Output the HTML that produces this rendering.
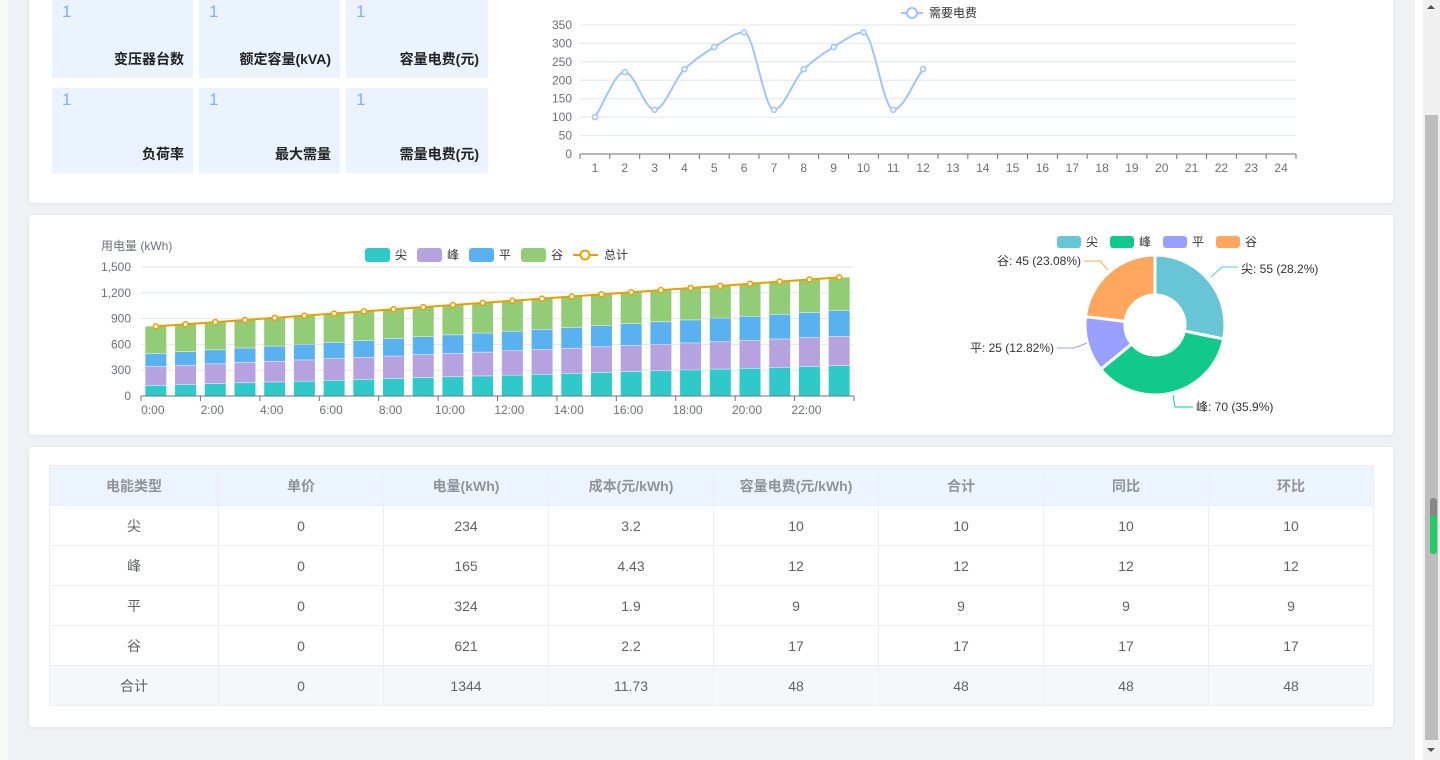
<!DOCTYPE html>
<html><head><meta charset="utf-8">
<style>
*{margin:0;padding:0;box-sizing:border-box}
body{width:1440px;height:760px;overflow:hidden;background:#fff;font-family:"Liberation Sans","Noto Sans CJK SC",sans-serif;position:relative}
#bg{position:absolute;left:0;top:0;width:1415px;height:760px;background:#f0f1f5}
#bg2{position:absolute;left:0;top:0;width:8px;height:760px;background:#f7f8fa}
.panel{position:absolute;left:29px;width:1364px;background:#fff;border-radius:4px;box-shadow:0 1px 4px rgba(0,0,0,.06)}
.box{position:absolute;background:#eaf3ff;width:141px}
.box .n{position:absolute;left:10px;top:2px;font-size:17px;color:#7ab5f5}
.box .l{position:absolute;right:9px;bottom:9px;font-size:14px;font-weight:bold;color:#222}
table{position:absolute;left:49px;top:465px;border-collapse:collapse;font-size:14px;color:#606266}
td,th{border:1px solid #ebeef5;height:40px;padding:0;text-align:center;width:165px}
th{background:#ecf5ff;color:#909399;font-weight:bold}
tr.sum td{background:#f5f7fa}
#sb{position:absolute;left:1423px;top:0;width:17px;height:760px;background:#f0f0f0}
#thumb{position:absolute;left:1425px;top:115px;width:13px;height:625px;background:#bdbdbd}
</style></head><body>
<div id="bg"></div><div id="bg2"></div>
<div class="panel" style="top:-10px;height:213px"></div>
<div class="panel" style="top:215px;height:220px"></div>
<div class="panel" style="top:447px;height:280px"></div>

<div class="box" style="left:52px;top:0;height:78px"><span class="n">1</span><span class="l">变压器台数</span></div>
<div class="box" style="left:199px;top:0;height:78px"><span class="n">1</span><span class="l">额定容量(kVA)</span></div>
<div class="box" style="left:346px;top:0;height:78px;width:142px"><span class="n">1</span><span class="l">容量电费(元)</span></div>
<div class="box" style="left:52px;top:88px;height:85px"><span class="n">1</span><span class="l">负荷率</span></div>
<div class="box" style="left:199px;top:88px;height:85px"><span class="n">1</span><span class="l">最大需量</span></div>
<div class="box" style="left:346px;top:88px;height:85px;width:142px"><span class="n">1</span><span class="l">需量电费(元)</span></div>

<svg id="svg" width="1440" height="760" style="position:absolute;left:0;top:0" font-family="Liberation Sans, Noto Sans CJK SC, sans-serif"></svg>

<table>
<tr><th style="width:169px;height:40px">电能类型</th><th>单价</th><th>电量(kWh)</th><th>成本(元/kWh)</th><th>容量电费(元/kWh)</th><th>合计</th><th>同比</th><th>环比</th></tr>
<tr><td>尖</td><td>0</td><td>234</td><td>3.2</td><td>10</td><td>10</td><td>10</td><td>10</td></tr>
<tr><td>峰</td><td>0</td><td>165</td><td>4.43</td><td>12</td><td>12</td><td>12</td><td>12</td></tr>
<tr><td>平</td><td>0</td><td>324</td><td>1.9</td><td>9</td><td>9</td><td>9</td><td>9</td></tr>
<tr><td>谷</td><td>0</td><td>621</td><td>2.2</td><td>17</td><td>17</td><td>17</td><td>17</td></tr>
<tr class="sum"><td>合计</td><td>0</td><td>1344</td><td>11.73</td><td>48</td><td>48</td><td>48</td><td>48</td></tr>
</table>
<div id="sb"></div><div id="thumb"></div>
<div style="position:absolute;left:1430px;top:498px;width:7px;height:56px;border-radius:3px;background:#888"></div>
<div style="position:absolute;left:1430px;top:516px;width:7px;height:38px;border-radius:0 0 3px 3px;background:#22cc66"></div>
<div style="position:absolute;left:1427px;top:5px;border:4px solid transparent;border-bottom:4px solid #555;border-top:0"></div>
<div style="position:absolute;left:1427px;top:748px;border:4px solid transparent;border-top:4px solid #555;border-bottom:0"></div>

<script>
var s='';
function T(x,y,t,a,c,fs){s+='<text x="'+x+'" y="'+y+'" text-anchor="'+(a||'start')+'" fill="'+(c||'#6e7079')+'" font-size="'+(fs||12)+'">'+t+'</text>';}
var x0=580,x1=1296,y0=154,yt=25,cw=(x1-x0)/24;
for(var v=0;v<=350;v+=50){var y=y0-(v/350)*(y0-yt);if(v>0)s+='<line x1="'+x0+'" x2="'+x1+'" y1="'+y+'" y2="'+y+'" stroke="#e0e6f1"/>';T(572,y+4,v,'end');}
s+='<line x1="'+x0+'" x2="'+x1+'" y1="'+y0+'" y2="'+y0+'" stroke="#6e7079"/>';
for(var i=0;i<=24;i++){var x=x0+i*cw;s+='<line x1="'+x+'" x2="'+x+'" y1="'+y0+'" y2="'+(y0+5)+'" stroke="#6e7079"/>';if(i<24)T(x+cw/2,y0+18,i+1,'middle');}
var d=[100,222,120,230,290,330,120,230,290,330,120,230];
var P=d.map(function(v,i){return [x0+cw/2+i*cw,y0-v/350*(y0-yt)];});
var n=P.length,m=[],dl=[];
for(var i=0;i<n-1;i++)dl.push((P[i+1][1]-P[i][1])/cw);
for(var i=0;i<n;i++){if(i==0)m.push(dl[0]);else if(i==n-1)m.push(dl[n-2]);else if(dl[i-1]*dl[i]<=0)m.push(0);else m.push(2/(1/dl[i-1]+1/dl[i]));}
var p='M'+P[0];
for(var i=0;i<n-1;i++){var b=P[i],c=P[i+1],h=cw/3;
p+=' C'+(b[0]+h)+','+(b[1]+m[i]*h)+' '+(c[0]-h)+','+(c[1]-m[i+1]*h)+' '+c;}
s+='<path d="'+p+'" fill="none" stroke="#a0c4ff" stroke-width="2"/>';
P.forEach(function(q){s+='<circle cx="'+q[0]+'" cy="'+q[1]+'" r="2.5" fill="#fff" stroke="#a0c4ff" stroke-width="1.5"/>';});
s+='<line x1="901" x2="923" y1="13" y2="13" stroke="#a0c4ff" stroke-width="2"/><circle cx="912" cy="13" r="5" fill="#fff" stroke="#a0c4ff" stroke-width="2"/>';
T(929,17,'需要电费','start','#333');
var bx0=141,bx1=854,by0=396,byt=267,bw=(bx1-bx0)/24;
T(101,250,'用电量 (kWh)');
[0,300,600,900,1200,1500].forEach(function(v){var y=by0-v/1500*(by0-byt);if(v>0)s+='<line x1="'+bx0+'" x2="'+bx1+'" y1="'+y+'" y2="'+y+'" stroke="#e0e6f1"/>';T(131,y+4,v.toLocaleString('en'),'end');});
var cols=['#30c9c9','#b6a2de','#5ab1ef','#93cc76'];
var st=[[120,350],[220,340],[150,300],[320,390]];
var tp=[];
for(var i=0;i<24;i++){var t=i/23,acc=0,x=bx0+i*bw+(bw-21)/2;
for(var j=0;j<4;j++){var v=st[j][0]+(st[j][1]-st[j][0])*t;var h=v/1500*(by0-byt);var y=by0-(acc+v)/1500*(by0-byt);
s+='<rect x="'+x+'" y="'+y+'" width="21" height="'+(h-0.5)+'" fill="'+cols[j]+'"/>';acc+=v;}
tp.push([bx0+i*bw+bw/2,by0-acc/1500*(by0-byt)]);}
s+='<polyline points="'+tp.join(' ')+'" fill="none" stroke="#e6a000" stroke-width="2"/>';
tp.forEach(function(q){s+='<circle cx="'+q[0]+'" cy="'+q[1]+'" r="2.5" fill="#fff" stroke="#e6a000" stroke-width="1.5"/>';});
s+='<line x1="'+bx0+'" x2="'+bx1+'" y1="'+by0+'" y2="'+by0+'" stroke="#6e7079"/>';
for(var i=0;i<=24;i+=2){var x=bx0+i*bw;s+='<line x1="'+x+'" x2="'+x+'" y1="'+by0+'" y2="'+(by0+5)+'" stroke="#6e7079"/>';if(i<24)T(x+bw/2-3,by0+18,i+':00','middle');}
var lg=[['尖',cols[0],365],['峰',cols[1],417],['平',cols[2],469],['谷',cols[3],521]];
lg.forEach(function(l){s+='<rect x="'+l[2]+'" y="248" width="25" height="14" rx="3" fill="'+l[1]+'"/>';T(l[2]+30,259,l[0],'start','#333');});
s+='<line x1="573" x2="598" y1="255" y2="255" stroke="#e6a000" stroke-width="2"/><circle cx="585" cy="255" r="4.5" fill="#fff" stroke="#e6a000" stroke-width="2"/>';
T(604,259,'总计','start','#333');
var cx=1155,cy=325,R=70,r=30;
var pd=[[55,'#67c5d6'],[70,'#12c98c'],[25,'#9aa0ff'],[45,'#ffa75e']],tot=195,ang=-90;
pd.forEach(function(q){var a1=ang,a2=ang+q[0]/tot*360;ang=a2;
function pt(rr,a){return [cx+rr*Math.cos(a*Math.PI/180),cy+rr*Math.sin(a*Math.PI/180)];}
var lf=(a2-a1)>180?1:0;
s+='<path d="M'+pt(R,a1)+' A'+R+','+R+' 0 '+lf+' 1 '+pt(R,a2)+' L'+pt(r,a2)+' A'+r+','+r+' 0 '+lf+' 0 '+pt(r,a1)+'Z" fill="'+q[1]+'" stroke="#fff" stroke-width="3" stroke-linejoin="round"/>';});
s+='<polyline points="1211,277 1222,267 1238,267" fill="none" stroke="#67c5d6"/>';T(1241,273,'尖: 55 (28.2%)','start','#333');
s+='<polyline points="1173,395 1175,407 1193,407" fill="none" stroke="#12c98c"/>';T(1196,411,'峰: 70 (35.9%)','start','#333');
s+='<polyline points="1087,343 1074,348 1057,348" fill="none" stroke="#9aa0ff"/>';T(1054,352,'平: 25 (12.82%)','end','#333');
s+='<polyline points="1108,270 1100,261 1084,261" fill="none" stroke="#ffa75e"/>';T(1081,265,'谷: 45 (23.08%)','end','#333');
var pl=[['尖','#67c5d6',1057],['峰','#12c98c',1110],['平','#9aa0ff',1163],['谷','#ffa75e',1216]];
pl.forEach(function(l){s+='<rect x="'+l[2]+'" y="236" width="24" height="12" rx="3" fill="'+l[1]+'"/>';T(l[2]+29,246,l[0],'start','#333');});
document.getElementById('svg').innerHTML=s;
</script>
</body></html>
